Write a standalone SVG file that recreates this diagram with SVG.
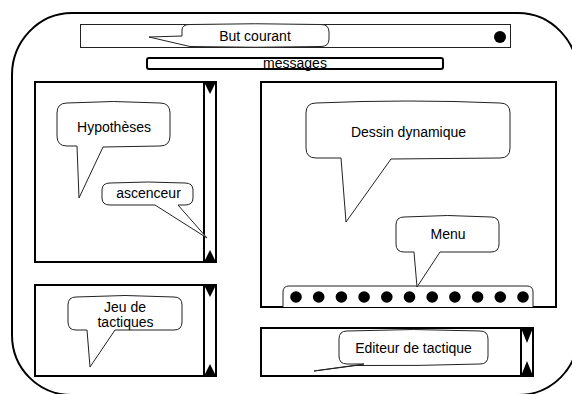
<svg xmlns="http://www.w3.org/2000/svg" width="572" height="394" viewBox="0 0 572 394">
<style>
.panel{fill:#fff;stroke:#000;stroke-width:2}
.thin{fill:#fff;stroke:#222;stroke-width:1}
.bub{fill:#fff;stroke:#222;stroke-width:1;stroke-linejoin:miter}
.tri{fill:#000}
.dot{fill:#000}
text{font-family:"Liberation Sans",Arial,sans-serif;font-size:14px;fill:#000;text-anchor:middle}
</style>
<rect width="572" height="394" fill="#fff"/>
<g id="frame">
<path d="M72,13 H518 C552,13 578,42 578,75 V335 C578,368 552,395 518,395 H72 C38,395 12,368 12,335 V75 C12,42 38,13 72,13 Z" fill="none" stroke="#000" stroke-width="2"/>
</g>
<g id="but-courant">
<rect x="80.5" y="24.5" width="430" height="23" class="thin"/>
<circle cx="500" cy="37" r="6" class="dot"/>
<path class="bub" d="M182,36 L149,37 L190,46.5 Q255,48 321,46.5 Q329,46.5 329,39 L329,32 Q329,24.5 321,24.5 Q255,23 190,24.5 Q182,24.5 182,30 Z"/>
<text x="255" y="41">But courant</text>
</g>
<g id="messages">
<rect x="147" y="58" width="296" height="11" rx="2" fill="#fff" stroke="#000" stroke-width="2"/>
<text x="295" y="68">messages</text>
</g>
<g id="hypotheses-panel">
<rect x="35" y="82" width="181" height="180" class="panel"/>
<line x1="204" y1="82" x2="204" y2="262" stroke="#000" stroke-width="2"/>
<polygon class="tri" points="204,82 216,82 210,94"/>
<polygon class="tri" points="204,262 216,262 210,250"/>
<path class="bub" d="M77,146 L79,198 L103,147 L160,146 Q170,146 170,136 L170,113 Q170,103 160,103 Q113,100 67,103 Q57,103 57,113 L57,136 Q57,146 67,146 Z"/>
<text x="114" y="132">Hypothèses</text>
</g>
<g id="ascenceur">
<path class="bub" d="M155,205 L207,238 L178,205 L185,205 Q193,205 193,198 L193,190 Q193,183 185,183 Q148,181 110,183 Q102,183 102,190 L102,198 Q102,205 110,205 Z"/>
<text x="148.5" y="198">ascenceur</text>
</g>
<g id="jeu-panel">
<rect x="35" y="285" width="181" height="91" class="panel"/>
<line x1="204" y1="285" x2="204" y2="376" stroke="#000" stroke-width="2"/>
<polygon class="tri" points="204,285 216,285 210,297"/>
<polygon class="tri" points="204,376 216,376 210,364"/>
<path class="bub" d="M87,330 L90,367 L115,330 L174,330 Q182,330 182,322 L182,305 Q182,297 174,297 Q125,294 76,297 Q68,297 68,305 L68,322 Q68,330 76,330 Z"/>
<text x="125" y="312">Jeu de</text>
<text x="125.5" y="327">tactiques</text>
</g>
<g id="dessin-panel">
<rect x="261" y="82" width="295" height="225" class="panel"/>
<path class="bub" d="M341,158 L346,222 L391,159 L500,158 Q510,158 510,148 L510,113 Q510,103 500,103 Q408,99 316,103 Q306,103 306,113 L306,148 Q306,158 316,158 Z"/>
<text x="408.5" y="137">Dessin dynamique</text>
</g>
<g id="menu">
<path d="M283,307 V292 Q283,286 289,286 H527 Q533,286 533,292 V307" fill="#fff" stroke="#222" stroke-width="1"/>
<circle class="dot" cx="296" cy="297" r="5.8"/>
<circle class="dot" cx="318.7" cy="297" r="5.8"/>
<circle class="dot" cx="341.4" cy="297" r="5.8"/>
<circle class="dot" cx="364.1" cy="297" r="5.8"/>
<circle class="dot" cx="386.8" cy="297" r="5.8"/>
<circle class="dot" cx="409.5" cy="297" r="5.8"/>
<circle class="dot" cx="432.2" cy="297" r="5.8"/>
<circle class="dot" cx="454.9" cy="297" r="5.8"/>
<circle class="dot" cx="477.6" cy="297" r="5.8"/>
<circle class="dot" cx="500.3" cy="297" r="5.8"/>
<circle class="dot" cx="523" cy="297" r="5.8"/>
<path class="bub" d="M414,252 L417,287 L440,252 L491,252 Q499,252 499,244 L499,225 Q499,217 491,217 Q448,214 404,217 Q396,217 396,225 L396,244 Q396,252 404,252 Z"/>
<text x="448" y="239">Menu</text>
</g>
<g id="editeur-panel">
<rect x="261" y="328" width="272" height="48" class="panel"/>
<line x1="521" y1="328" x2="521" y2="376" stroke="#000" stroke-width="2"/>
<polygon class="tri" points="521,328 533,328 527,343"/>
<polygon class="tri" points="521,376 533,376 527,361"/>
<path class="bub" d="M364,364 L314,371 L356,365.5 Q420,366 480,364 Q488,364 488,356 L488,339 Q488,331 480,331 Q413,328 347,331 Q339,331 339,339 L339,356 Q339,364 347,364 Z"/>
<text x="413.5" y="353">Editeur de tactique</text>
</g>
</svg>
